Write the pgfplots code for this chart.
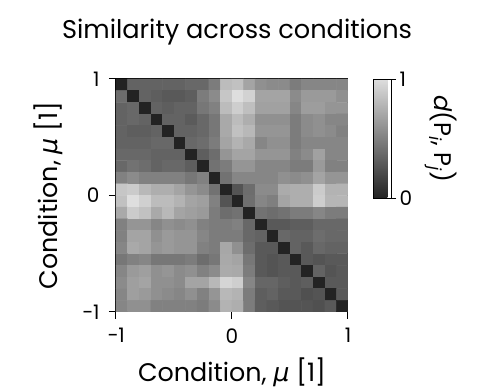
\documentclass[border=0pt]{standalone}
\usepackage{pgfplots}
\pgfplotsset{compat=1.18}
\usepackage{fontspec}
\setmainfont{Poppins}
\newfontfamily\gk{DejaVu Sans}
\begin{document}
\begin{tikzpicture}[x=1pt,y=1pt]
\path[use as bounding box] (0,0) rectangle (480,390);
\begin{axis}[
  at={(116pt,78pt)}, anchor=south west,
  scale only axis, width=232pt, height=233pt,
  xmin=-1, xmax=1, ymin=-1, ymax=1,
  xtick={-1,0,1}, ytick={-1,0,1},
  xticklabels={−1,0,1}, yticklabels={−1,0,1},
  tick align=outside, tick pos=left,
  major tick length=7pt,
  every tick/.style={black, line width=1pt},
  axis line style={black, line width=1pt},
  tick label style={font=\fontsize{20}{22}\selectfont},
  x tick label style={yshift=-6pt},
  y tick label style={xshift=-6pt},
  xlabel={Condition, {\gk\itshape μ} [1]},
  ylabel={Condition, {\gk\itshape μ} [1]},
  every axis x label/.style={at={(axis description cs:0.5,0)}, anchor=center, yshift=-60pt, font=\fontsize{25.4}{28}\selectfont},
  every axis y label/.style={at={(axis description cs:0,0.5)}, anchor=center, rotate=90, yshift=68pt, font=\fontsize{25.4}{28}\selectfont},
  title={Similarity across conditions},
  title style={at={(axis description cs:0.522,1)}, anchor=center, yshift=41pt, font=\fontsize{25.6}{28}\selectfont},
  colormap={bw}{gray(0cm)=(0.137); gray(1cm)=(0.87)},
  point meta min=0, point meta max=1,
  colorbar,
  colorbar style={
    at={(1.108,1)}, anchor=north west,
    scale only axis, width=18pt, height=119pt,
    ytick={0,1}, yticklabels={0,1},
    ytick pos=right, xtick=\empty,
    tick align=outside, major tick length=5pt,
    axis line style={black, line width=0.6pt},
    every tick/.style={black, line width=0.8pt},
    tick label style={font=\fontsize{20}{22}\selectfont},
  },
]
\addplot[matrix plot*, mesh/cols=20, point meta={(\thisrow{g}-35)/190}]
  table[row sep=\\, x expr={mod(\coordindex,20)*0.1-0.95}, y expr={0.95-floor((\coordindex+0.5)/20)*0.1}] {
g\\
35\\ 100\\ 100\\ 100\\ 100\\ 100\\ 105\\ 105\\ 125\\ 190\\ 195\\ 165\\ 145\\ 140\\ 140\\ 125\\ 135\\ 135\\ 135\\ 135\\
110\\ 35\\ 100\\ 95\\ 90\\ 90\\ 95\\ 125\\ 140\\ 200\\ 225\\ 212\\ 165\\ 165\\ 165\\ 140\\ 155\\ 155\\ 155\\ 145\\
100\\ 105\\ 35\\ 100\\ 95\\ 100\\ 100\\ 120\\ 130\\ 190\\ 208\\ 193\\ 162\\ 162\\ 162\\ 135\\ 158\\ 158\\ 150\\ 150\\
100\\ 105\\ 100\\ 35\\ 100\\ 100\\ 92\\ 105\\ 120\\ 170\\ 190\\ 175\\ 145\\ 145\\ 145\\ 125\\ 140\\ 145\\ 135\\ 135\\
100\\ 95\\ 95\\ 100\\ 35\\ 100\\ 100\\ 105\\ 120\\ 170\\ 195\\ 185\\ 150\\ 150\\ 150\\ 125\\ 140\\ 145\\ 140\\ 130\\
100\\ 100\\ 100\\ 105\\ 105\\ 35\\ 105\\ 110\\ 125\\ 165\\ 180\\ 170\\ 135\\ 145\\ 145\\ 125\\ 135\\ 135\\ 135\\ 135\\
105\\ 105\\ 105\\ 100\\ 100\\ 100\\ 35\\ 95\\ 110\\ 150\\ 165\\ 165\\ 150\\ 150\\ 150\\ 130\\ 140\\ 162\\ 135\\ 135\\
105\\ 115\\ 110\\ 100\\ 105\\ 105\\ 95\\ 35\\ 115\\ 125\\ 150\\ 150\\ 135\\ 135\\ 135\\ 125\\ 125\\ 155\\ 130\\ 130\\
130\\ 140\\ 130\\ 130\\ 130\\ 130\\ 120\\ 130\\ 35\\ 115\\ 135\\ 135\\ 135\\ 135\\ 145\\ 140\\ 145\\ 165\\ 150\\ 150\\
200\\ 205\\ 185\\ 175\\ 175\\ 165\\ 150\\ 140\\ 115\\ 35\\ 85\\ 110\\ 140\\ 140\\ 172\\ 175\\ 175\\ 205\\ 180\\ 180\\
195\\ 225\\ 210\\ 190\\ 190\\ 180\\ 165\\ 160\\ 130\\ 85\\ 35\\ 112\\ 135\\ 128\\ 165\\ 175\\ 175\\ 208\\ 183\\ 183\\
170\\ 205\\ 195\\ 170\\ 185\\ 165\\ 160\\ 155\\ 125\\ 110\\ 115\\ 35\\ 115\\ 110\\ 115\\ 125\\ 125\\ 135\\ 125\\ 125\\
130\\ 150\\ 150\\ 135\\ 145\\ 140\\ 145\\ 130\\ 125\\ 125\\ 130\\ 105\\ 35\\ 90\\ 90\\ 95\\ 95\\ 105\\ 105\\ 105\\
130\\ 165\\ 165\\ 145\\ 155\\ 150\\ 150\\ 135\\ 125\\ 125\\ 125\\ 105\\ 100\\ 35\\ 105\\ 100\\ 100\\ 110\\ 105\\ 105\\
135\\ 170\\ 165\\ 150\\ 155\\ 150\\ 150\\ 130\\ 125\\ 168\\ 145\\ 110\\ 90\\ 90\\ 35\\ 100\\ 90\\ 105\\ 100\\ 100\\
120\\ 130\\ 135\\ 120\\ 120\\ 120\\ 125\\ 110\\ 120\\ 170\\ 165\\ 120\\ 90\\ 85\\ 90\\ 35\\ 90\\ 85\\ 90\\ 90\\
135\\ 155\\ 160\\ 145\\ 150\\ 140\\ 145\\ 130\\ 140\\ 172\\ 170\\ 125\\ 90\\ 85\\ 90\\ 90\\ 35\\ 100\\ 85\\ 90\\
140\\ 160\\ 165\\ 145\\ 145\\ 140\\ 165\\ 165\\ 185\\ 215\\ 208\\ 135\\ 103\\ 103\\ 95\\ 90\\ 95\\ 35\\ 90\\ 90\\
135\\ 160\\ 155\\ 145\\ 140\\ 135\\ 145\\ 130\\ 150\\ 185\\ 180\\ 125\\ 95\\ 100\\ 90\\ 90\\ 80\\ 85\\ 35\\ 90\\
135\\ 145\\ 145\\ 130\\ 130\\ 130\\ 130\\ 125\\ 140\\ 180\\ 175\\ 125\\ 95\\ 90\\ 85\\ 85\\ 85\\ 80\\ 90\\ 35\\
};
\end{axis}
\node[rotate=-90, font=\fontsize{24}{28}\selectfont] at (441,251) {\textit{d}(P\textsubscript{\textit{i}}, P\textsubscript{\textit{j}})};
\end{tikzpicture}
\end{document}
